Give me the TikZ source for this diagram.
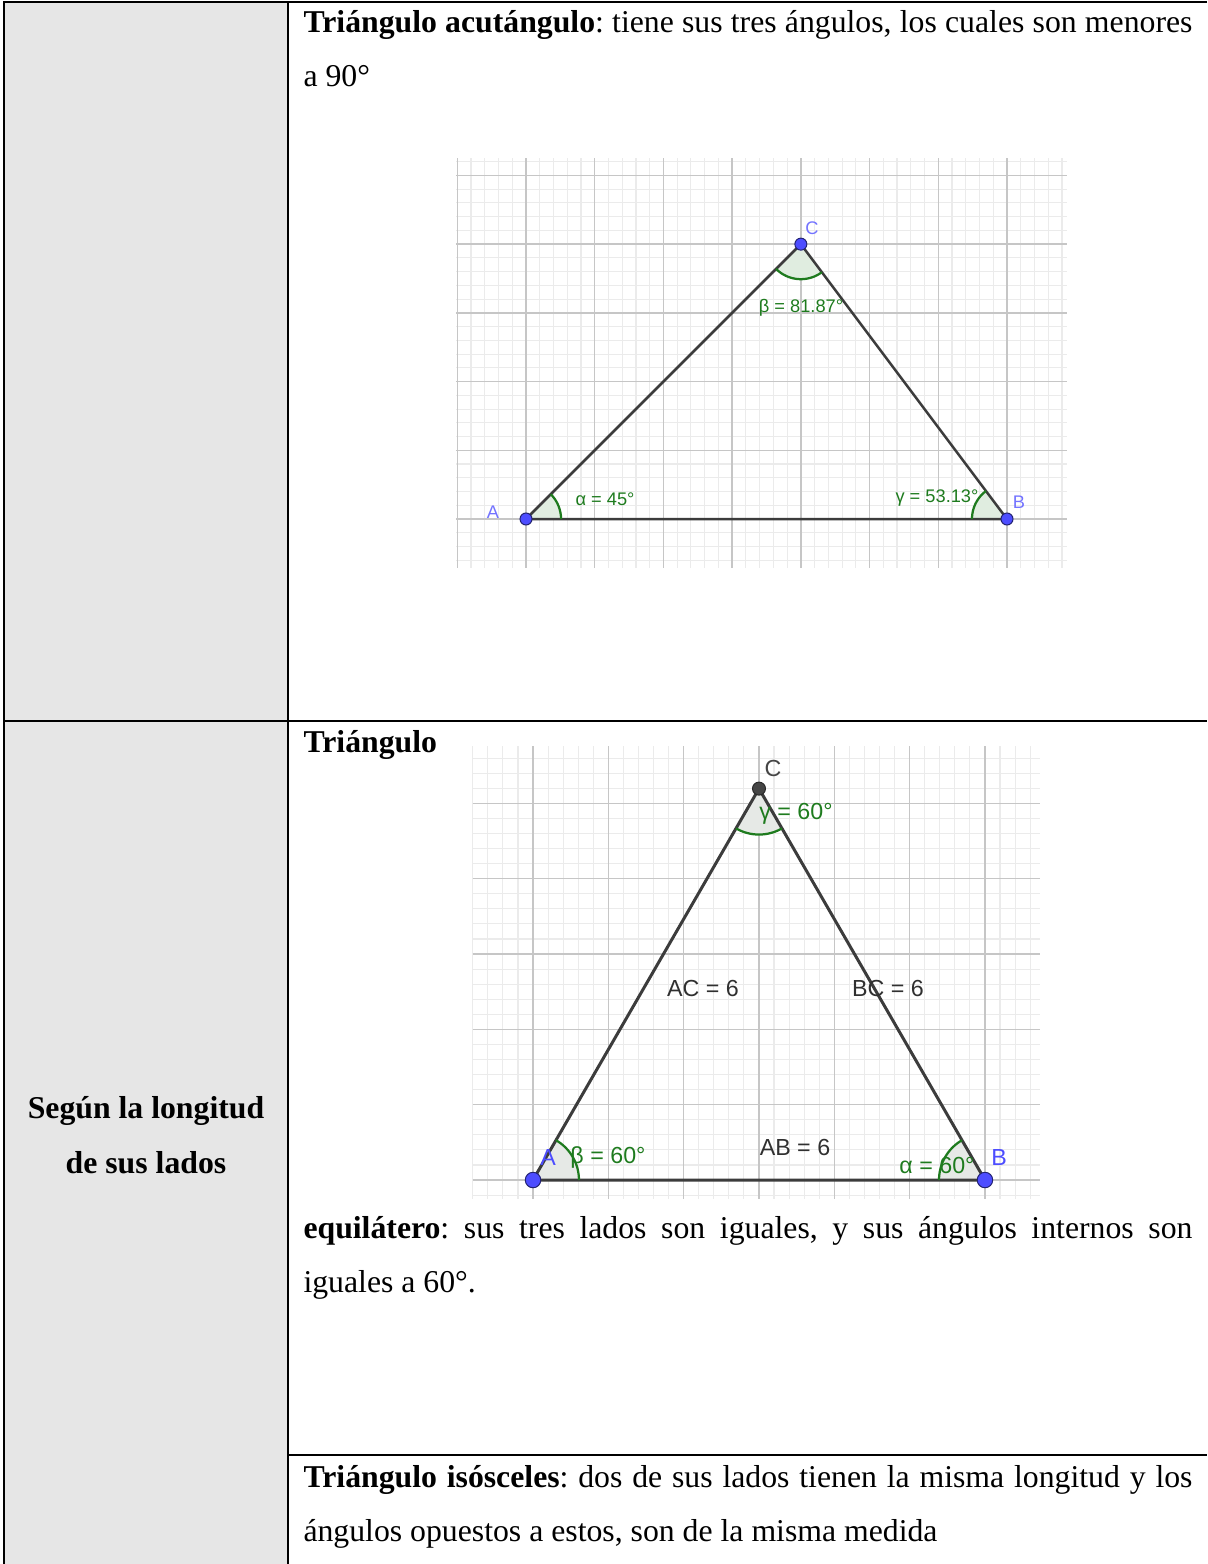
\documentclass[tikz,border=0pt]{standalone}
\usepackage{fontspec}
\setmainfont{Liberation Serif}
\newfontfamily\ggbfont{Liberation Sans}
\usetikzlibrary{calc}
\frenchspacing
\definecolor{cellgrey}{HTML}{E6E6E6}
\definecolor{gridmajor}{HTML}{C6C6C6}
\definecolor{gridminor}{HTML}{EBEBEB}
\definecolor{sideline}{HTML}{3C3C3C}
\definecolor{anglegreen}{HTML}{1E7B1E}
\definecolor{anglefill}{HTML}{E0EDE0}
\definecolor{anglegrey}{HTML}{E6E9E6}
\definecolor{ptblue}{HTML}{4D4DFF}
\definecolor{ptlabel}{HTML}{7373FF}
\definecolor{ptdark}{HTML}{454545}
\tikzset{
  rule/.style={line width=0.8pt, black},
  bodytext/.style={anchor=base west, inner sep=0pt, font=\fontsize{12.7}{15}\selectfont},
  headtext/.style={anchor=base, inner sep=0pt, font=\fontsize{12.7}{15}\selectfont\bfseries},
  minorgrid/.style={gridminor, line width=0.45pt},
  majorgrid/.style={gridmajor, line width=0.6pt},
  side/.style={sideline, line width=1pt},
  angarc/.style={anglegreen, line width=0.9pt},
  vtx/.style={circle, fill=ptblue, draw=ptblue!45!black, line width=0.4pt, inner sep=0pt, minimum size=#1},
  vtx/.default=4.8pt,
  lblsmall/.style={inner sep=0pt, font=\ggbfont\fontsize{7.3}{8}\selectfont},
  lblbig/.style={inner sep=0pt, font=\ggbfont\fontsize{9.3}{10}\selectfont},
}

\begin{document}
\begin{tikzpicture}[x=0.4pt, y=-0.4pt]
\useasboundingbox (0,0) rectangle (1207,1564);

% table
\fill[cellgrey] (4,2) rectangle (288,1564);
\draw[rule] (1207,2) -- (4,2) -- (4,1564);
\draw[rule] (288,2) -- (288,1564);
\draw[rule] (4,721) -- (1207,721);
\draw[rule] (288,1455) -- (1207,1455);

\node[headtext] (crit1) at (146,1118) {Según la longitud};
\node[headtext] (crit2) at (146,1173) {de sus lados};

\node[bodytext] (acute1) at (303,33) {\makebox[355.6pt][s]{\textbf{Triángulo acutángulo}: tiene sus tres ángulos, los cuales son menores}};
\node[bodytext] (acute2) at (303,87) {a 90°};
\node[bodytext] (equi0) at (303,752) {\textbf{Triángulo}};
\node[bodytext] (equi1) at (303,1238) {\makebox[355.6pt][s]{\textbf{equilátero}: sus tres lados son iguales, y sus ángulos internos son}};
\node[bodytext] (equi2) at (303,1292) {iguales a 60°.};
\node[bodytext] (iso1) at (303,1487) {\makebox[355.6pt][s]{\textbf{Triángulo isósceles}: dos de sus lados tienen la misma longitud y los}};
\node[bodytext] (iso2) at (303,1541) {ángulos opuestos a estos, son de la misma medida};

% acute triangle
\begin{scope}[shift={(526,519)}, x=27.484pt, y=27.484pt]
  \draw[minorgrid, step=0.2] (-1.02,-0.71) grid (7.87,5.25);
  \draw[majorgrid, step=1] (-1.02,-0.71) grid (7.87,5.25);
  \coordinate (A1) at (0,0);
  \coordinate (B1) at (7,0);
  \coordinate (C1) at (4,4);
  \fill[anglefill] (A1) -- ++(0:0.51) arc[start angle=0, end angle=45, radius=0.51] -- cycle;
  \fill[anglefill] (B1) -- ++(126.87:0.51) arc[start angle=126.87, end angle=180, radius=0.51] -- cycle;
  \fill[anglefill] (C1) -- ++(225:0.51) arc[start angle=225, end angle=306.87, radius=0.51] -- cycle;
  \draw[side] (A1) -- (B1) -- (C1) -- cycle;
  \draw[angarc] ($(A1)+(0:0.51)$) arc[start angle=0, end angle=45, radius=0.51];
  \draw[angarc] ($(B1)+(126.87:0.51)$) arc[start angle=126.87, end angle=180, radius=0.51];
  \draw[angarc] ($(C1)+(225:0.51)$) arc[start angle=225, end angle=306.87, radius=0.51];
  \node[vtx] (ptA1) at (A1) {};
  \node[vtx] (ptB1) at (B1) {};
  \node[vtx] (ptC1) at (C1) {};
\end{scope}
\node[lblsmall, ptlabel] (labA1) at (493,512) {A};
\node[lblsmall, ptlabel] (labB1) at (1019,502) {B};
\node[lblsmall, ptlabel] (labC1) at (812,228) {C};
\node[lblsmall, anglegreen] (alpha1) at (605,499) {α = 45°};
\node[lblsmall, anglegreen] (gamma1) at (937,498) {γ = 53.13°};
\node[lblsmall, anglegreen] (beta1) at (801,308) {β = 81.87°};

% equilateral triangle
\begin{scope}[shift={(533,1180)}, x=30.13pt, y=30.13pt]
  \draw[minorgrid, step=0.2] (-0.8,-0.25) grid (6.73,5.76);
  \draw[majorgrid, step=1] (-0.8,-0.25) grid (6.73,5.76);
  \coordinate (A2) at (0,0);
  \coordinate (B2) at (6,0);
  \coordinate (C2) at (3,5.196);
  \fill[anglegrey] (A2) -- ++(0:0.61) arc[start angle=0, end angle=60, radius=0.61] -- cycle;
  \fill[anglegrey] (B2) -- ++(120:0.61) arc[start angle=120, end angle=180, radius=0.61] -- cycle;
  \fill[anglegrey] (C2) -- ++(240:0.61) arc[start angle=240, end angle=300, radius=0.61] -- cycle;
  \draw[side, line width=1.2pt] (A2) -- (B2) -- (C2) -- cycle;
  \draw[angarc] ($(A2)+(0:0.61)$) arc[start angle=0, end angle=60, radius=0.61];
  \draw[angarc] ($(B2)+(120:0.61)$) arc[start angle=120, end angle=180, radius=0.61];
  \draw[angarc] ($(C2)+(240:0.61)$) arc[start angle=240, end angle=300, radius=0.61];
  \node[vtx=6.2pt] (ptA2) at (A2) {};
  \node[vtx=6.2pt] (ptB2) at (B2) {};
  \node[vtx=5.2pt, fill=ptdark, draw=ptdark!60!black] (ptC2) at (C2) {};
\end{scope}
\node[lblbig, text=ptdark] (labC2) at (773,768) {C};
\node[lblbig, ptblue] (labA2) at (548,1157) {A};
\node[lblbig, ptblue] (labB2) at (999,1157) {B};
\node[lblbig, anglegreen] (gamma2) at (796,814) {γ = 60°};
\node[lblbig, anglegreen] (beta2) at (608,1157) {β = 60°};
\node[lblbig, anglegreen] (alpha2) at (937,1165) {α = 60°};
\node[lblbig, text=sideline!80!black] (sideAC) at (703,988) {AC = 6};
\node[lblbig, text=sideline!80!black] (sideBC) at (888,988) {BC = 6};
\node[lblbig, text=sideline!80!black] (sideAB) at (795,1147) {AB = 6};
\end{tikzpicture}
\end{document}
